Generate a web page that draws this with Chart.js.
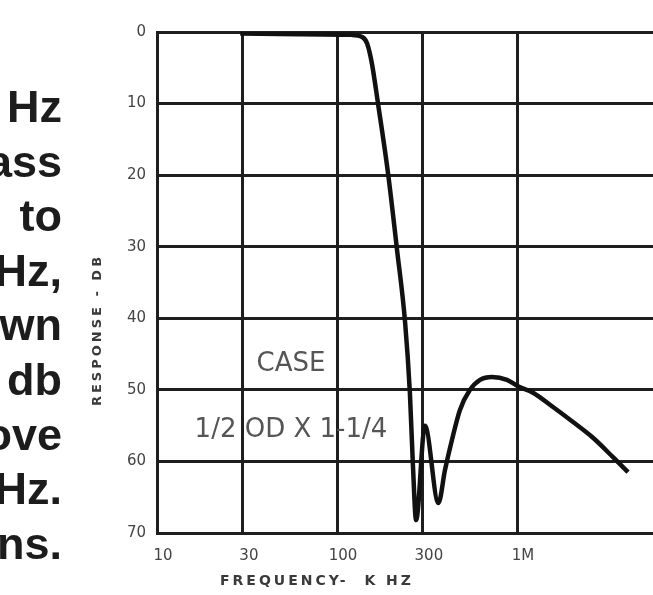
<!DOCTYPE html>
<html>
<head>
<meta charset="utf-8">
<script src="https://cdn.jsdelivr.net/npm/chart.js@4.4.1/dist/chart.umd.min.js"></script>
<style>
  html, body { margin: 0; padding: 0; background: #fff; }
  #wrap { position: relative; width: 653px; height: 595px; overflow: hidden; }
  #side {
    position: absolute; left: -140px; top: 80px; width: 202px;
    text-align: right; font: bold 45px "Liberation Sans", Arial, sans-serif;
    line-height: 54.6px; color: #1c1c1c; white-space: nowrap;
  }
</style>
</head>
<body>
<div id="wrap">
  <canvas id="chart" width="653" height="595"></canvas>
  <div id="side">Hz<br>ass<br>to<br>Hz,<br>wn<br>db<br>ove<br>Hz.<br>ns.</div>
</div>
<script>
/* ---------- DATA ---------- */

// frequency in kHz, response in dB (down)
const freqKHz = [29, 62, 120, 138, 147, 156, 169, 192, 215, 239, 254, 264, 275,
  308, 366, 398, 435, 482, 548, 623, 726, 880, 1013, 1227, 1585, 2047, 2643, 3413, 4137];
const responseDb = [0.2, 0.3, 0.4, 0.7, 1.6, 4.3, 10, 19.7, 30.2, 40.6, 50.4, 60.4, 68.2,
  55, 65.8, 61.2, 57, 52.8, 50, 48.6, 48.2, 48.6, 49.5, 50.4, 52.4, 54.5, 56.7, 59.4, 61.5];

const xTickValues = [10, 30, 100, 300, 1000];
const xTickLabels = ["10", "30", "100", "300", "1M"];
const yTickLabels = ["0", "10", "20", "30", "40", "50", "60", "70"];

const caseLines = ["CASE", "1/2 OD X 1-1/4"];

/* ---------- PLUGIN: TITLES + CASE NOTE ---------- */

const chartText = {
  id: "chartText",
  afterDraw(chart) {
    const { ctx, chartArea, scales } = chart;
    ctx.save();
    ctx.textAlign = "center";
    ctx.textBaseline = "middle";

    // case note, anchored in data space
    ctx.fillStyle = "#555";
    ctx.font = '26px "DejaVu Sans"';
    const nx = scales.x.getPixelForValue(55.5);
    ctx.fillText(caseLines[0], nx, scales.y.getPixelForValue(46.4));
    ctx.fillText(caseLines[1], nx, scales.y.getPixelForValue(55.7));

    // x title
    ctx.fillStyle = "#3a3a3a";
    ctx.font = 'bold 14px "DejaVu Sans"';
    ctx.letterSpacing = "3px";
    ctx.fillText("FREQUENCY-  K HZ", chartArea.left + 160, chart.height - 14);

    // y title
    ctx.font = 'bold 13px "DejaVu Sans"';
    ctx.letterSpacing = "3px";
    ctx.translate(98, 330);
    ctx.rotate(-Math.PI / 2);
    ctx.fillText("RESPONSE - DB", 0, 0);
    ctx.restore();
  }
};

/* ---------- CHART ---------- */

const points = freqKHz.map((f, i) => ({ x: f, y: responseDb[i] }));
const gridColor = "#1e1e1e";

new Chart(document.getElementById("chart"), {
  type: "line",
  data: {
    datasets: [{
      data: points,
      borderColor: "#111",
      borderWidth: 4.5,
      pointRadius: 0,
      fill: false,
      cubicInterpolationMode: "monotone"
    }]
  },
  options: {
    responsive: false,
    animation: false,
    layout: { padding: { top: 32, right: 0, left: 0, bottom: 0 } },
    plugins: { legend: { display: false }, tooltip: { enabled: false } },
    scales: {
      x: {
        type: "logarithmic",
        min: 10,
        max: 5695,
        afterBuildTicks(scale) {
          scale.ticks = xTickValues.map(v => ({ value: v }));
        },
        afterFit(scale) { scale.height = 62; },
        grid: { color: gridColor, lineWidth: 3, drawTicks: false },
        border: { color: gridColor, width: 3 },
        ticks: {
          padding: 14,
          color: "#444",
          labelOffset: 6,
          font: { family: "DejaVu Sans", size: 15 },
          autoSkip: false,
          maxRotation: 0,
          callback: (v) => {
            const i = xTickValues.indexOf(v);
            return i >= 0 ? xTickLabels[i] : "";
          }
        }
      },
      y: {
        reverse: true,
        min: 0,
        max: 70,
        afterFit(scale) { scale.width = 157; },
        grid: { color: gridColor, lineWidth: 3, drawTicks: false },
        border: { color: gridColor, width: 3 },
        ticks: {
          stepSize: 10,
          padding: 11,
          color: "#444",
          font: { family: "DejaVu Sans", size: 15 },
          callback: (v) => yTickLabels[v / 10] ?? ""
        }
      }
    }
  },
  plugins: [chartText]
});
</script>
</body>
</html>
